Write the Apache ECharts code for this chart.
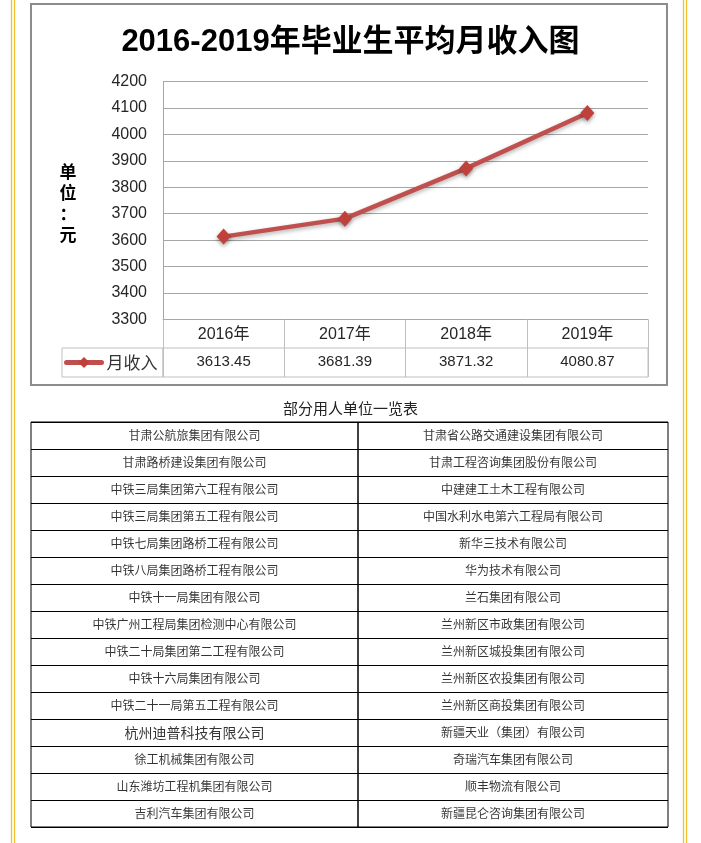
<!DOCTYPE html>
<html><head><meta charset="utf-8">
<script src="https://cdn.jsdelivr.net/npm/echarts@6/dist/echarts.min.js"></script>
<style>html,body{margin:0;padding:0;background:#fff}#c{width:701px;height:843px}</style>
</head><body><div id="c"></div>
<script>
const titleText = '2016-2019年毕业生平均月收入图';
const yAxisTitle = '单\n位\n：\n元';
const seriesName = '月收入';
const years = ['2016年', '2017年', '2018年', '2019年'];
const income = [3613.45, 3681.39, 3871.32, 4080.87];
const yMin = 3300, yMax = 4200, yStep = 100;
const tableTitle = '部分用人单位一览表';
const leftCompanies = [
  '甘肃公航旅集团有限公司', '甘肃路桥建设集团有限公司', '中铁三局集团第六工程有限公司',
  '中铁三局集团第五工程有限公司', '中铁七局集团路桥工程有限公司', '中铁八局集团路桥工程有限公司',
  '中铁十一局集团有限公司', '中铁广州工程局集团检测中心有限公司', '中铁二十局集团第二工程有限公司',
  '中铁十六局集团有限公司', '中铁二十一局第五工程有限公司', '杭州迪普科技有限公司',
  '徐工机械集团有限公司', '山东潍坊工程机集团有限公司', '吉利汽车集团有限公司'
];
const rightCompanies = [
  '甘肃省公路交通建设集团有限公司', '甘肃工程咨询集团股份有限公司', '中建建工土木工程有限公司',
  '中国水利水电第六工程局有限公司', '新华三技术有限公司', '华为技术有限公司',
  '兰石集团有限公司', '兰州新区市政集团有限公司', '兰州新区城投集团有限公司',
  '兰州新区农投集团有限公司', '兰州新区商投集团有限公司', '新疆天业（集团）有限公司',
  '奇瑞汽车集团有限公司', '顺丰物流有限公司', '新疆昆仑咨询集团有限公司'
];
const largerEntries = ['杭州迪普科技有限公司'];

const chart = echarts.init(document.getElementById('c'), null, {renderer: 'canvas'});
const latin = '"Liberation Sans", "Noto Sans CJK SC", sans-serif';
const cjk = '"Noto Sans CJK SC", sans-serif';
const gridGray = '#a6a6a6', tableGray = '#bfbfbf', red = '#c0504d';

function tableSeries(names, idx) {
  return {
    type: 'scatter', xAxisIndex: idx, yAxisIndex: idx, silent: true, symbolSize: 1,
    itemStyle: {color: 'rgba(0,0,0,0)'},
    label: {show: true, position: 'inside', formatter: p => p.value[1], color: '#000', fontSize: 12, fontFamily: cjk},
    data: names.map(n => largerEntries.includes(n)
      ? {value: [0, n], label: {fontSize: 14}}
      : {value: [0, n]})
  };
}
function tableYAxis(names, idx) {
  return {gridIndex: idx, type: 'category', data: names, inverse: true,
    axisLine: {show: false}, axisTick: {show: false}, axisLabel: {show: false},
    splitLine: {show: true, lineStyle: {color: '#000', width: 1}}};
}
function hiddenX(idx) { return {gridIndex: idx, type: 'category', data: [''], show: false}; }

chart.setOption({
  animation: false,
  backgroundColor: '#fff',
  title: [
    {text: titleText, left: 'center', top: 27, padding: 0,
     textStyle: {fontSize: 31, fontWeight: 'bold', color: '#000', fontFamily: latin}},
    {text: tableTitle, left: 'center', top: 401, padding: 0,
     textStyle: {fontSize: 15, fontWeight: 'normal', color: '#222', fontFamily: cjk}}
  ],
  legend: {data: [seriesName], left: 64, top: 354, padding: 0, itemWidth: 35, itemHeight: 14,
    lineStyle: {width: 5, cap: 'round'},
    textStyle: {fontSize: 17, color: '#333', fontFamily: cjk}, selectedMode: false},
  grid: [
    {left: 163, top: 81.5, width: 485, height: 238, containLabel: false},
    {left: 163, top: 348, width: 485, height: 29, show: true, borderColor: tableGray, borderWidth: 1},
    {left: 62, top: 348, width: 101, height: 29, show: true, borderColor: tableGray, borderWidth: 1},
    {left: 31, top: 422, width: 327, height: 405, show: true, borderColor: '#000', borderWidth: 1},
    {left: 358, top: 422, width: 310, height: 405, show: true, borderColor: '#000', borderWidth: 1}
  ],
  xAxis: [
    {gridIndex: 0, type: 'category', data: years, boundaryGap: true,
     axisLine: {show: true, lineStyle: {color: gridGray}},
     axisTick: {show: true, alignWithLabel: false, length: 57.5, lineStyle: {color: tableGray}},
     axisLabel: {color: '#262626', fontSize: 16, fontFamily: latin, margin: 7},
     splitLine: {show: false}},
    {gridIndex: 1, type: 'category', data: income.map(v => v.toFixed(2)), position: 'top',
     axisLine: {show: false}, axisTick: {show: false},
     axisLabel: {inside: true, margin: 6, fontSize: 15, color: '#262626', fontFamily: latin}},
    hiddenX(2), hiddenX(3), hiddenX(4)
  ],
  yAxis: [
    {gridIndex: 0, type: 'value', min: yMin, max: yMax, interval: yStep,
     axisLine: {show: true, lineStyle: {color: gridGray}}, axisTick: {show: false},
     axisLabel: {color: '#262626', fontSize: 16, margin: 16, fontFamily: latin, formatter: v => String(v)},
     splitLine: {show: true, lineStyle: {color: gridGray}}},
    {gridIndex: 1, type: 'value', show: false},
    {gridIndex: 2, type: 'value', show: false},
    tableYAxis(leftCompanies, 3), tableYAxis(rightCompanies, 4)
  ],
  series: [
    {type: 'line', name: seriesName, xAxisIndex: 0, yAxisIndex: 0, data: income,
     symbol: 'diamond', symbolSize: [14, 16], z: 5,
     lineStyle: {color: red, width: 4.5, shadowColor: 'rgba(0,0,0,0.3)', shadowBlur: 4, shadowOffsetY: 2},
     itemStyle: {color: '#c0403c', shadowColor: 'rgba(0,0,0,0.4)', shadowBlur: 4, shadowOffsetY: 2}},
    tableSeries(leftCompanies, 3), tableSeries(rightCompanies, 4)
  ],
  graphic: [
    {type: 'rect', silent: true, z: -1, shape: {x: 31, y: 4, width: 636, height: 381},
     style: {fill: 'none', stroke: '#8c8c8c', lineWidth: 2}},
    {type: 'line', silent: true, shape: {x1: 11.5, y1: 0, x2: 11.5, y2: 843}, style: {stroke: '#f3bf2c', lineWidth: 1.3}},
    {type: 'line', silent: true, shape: {x1: 14.5, y1: 0, x2: 14.5, y2: 843}, style: {stroke: '#f3bf2c', lineWidth: 1.3}},
    {type: 'line', silent: true, shape: {x1: 683.5, y1: 0, x2: 683.5, y2: 843}, style: {stroke: '#f3bf2c', lineWidth: 1.3}},
    {type: 'line', silent: true, shape: {x1: 686.5, y1: 0, x2: 686.5, y2: 843}, style: {stroke: '#f3bf2c', lineWidth: 1.3}},
    {type: 'text', silent: true, x: 68, y: 203,
     style: {text: yAxisTitle, fontSize: 17, fontWeight: 'bold', fontFamily: cjk, fill: '#000',
             align: 'center', verticalAlign: 'middle', lineHeight: 21}}
  ]
});
</script></body></html>
